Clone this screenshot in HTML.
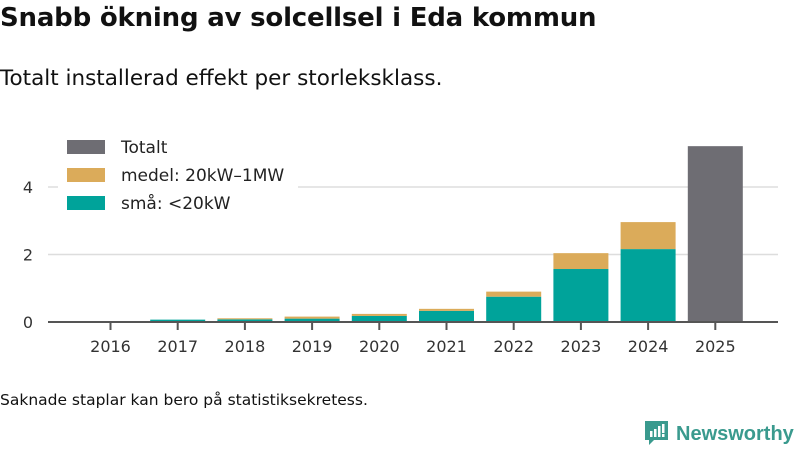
<!DOCTYPE html>
<html><head><meta charset="utf-8"><style>
body{margin:0;width:800px;height:450px;background:#fff;font-family:"DejaVu Sans","Liberation Sans",sans-serif;overflow:hidden;position:relative}
.t{position:absolute;left:0;top:3px;font-size:26px;font-weight:bold;color:#111;letter-spacing:-0.2px;white-space:nowrap}
.s{position:absolute;left:0;top:66px;font-size:21.5px;color:#111;white-space:nowrap}
.n{position:absolute;left:0;top:391px;font-size:15.5px;color:#111;white-space:nowrap}
.logo{position:absolute;left:645px;top:419px;font-size:20px;color:#3a9a8e;white-space:nowrap;font-family:"Liberation Sans",sans-serif}
</style></head><body>
<div class="t">Snabb ökning av solcellsel i Eda kommun</div>
<div class="s">Totalt installerad effekt per storleksklass.</div>
<svg id="c" width="800" height="450" style="position:absolute;left:0;top:0"></svg>
<div class="n">Saknade staplar kan bero på statistiksekretess.</div>
<div class="logo"><svg width="24" height="26" style="vertical-align:-5px;margin-right:7px"><path d="M0 2h23v19h-14l-5 5v-5h-4z" fill="#3a9a8e"/><rect x="5" y="12" width="2.5" height="6" fill="#fff"/><rect x="9" y="10" width="2.5" height="8" fill="#fff"/><rect x="13" y="7" width="2.5" height="11" fill="#fff"/><rect x="17" y="5" width="2.5" height="9" fill="#fff"/><rect x="17" y="15" width="2.5" height="3" fill="#fff"/></svg><span style="font-weight:bold">Newsworthy</span></div>
<script>
const years=["2016","2017","2018","2019","2020","2021","2022","2023","2024","2025"];
const small=[0,0.07,0.08,0.1,0.18,0.33,0.75,1.57,2.16,0];
const medel=[0,0,0.03,0.06,0.06,0.06,0.15,0.47,0.8,0];
const total=[0,0,0,0,0,0,0,0,0,5.21];
const yTicks=[0,2,4];
const NS="http://www.w3.org/2000/svg",svg=document.getElementById('c');
const y=v=>322-v*33.75, x=i=>110.5+i*67.2, bw=55;
function mk(t,a,p){const e=document.createElementNS(NS,t);for(const k in a)e.setAttribute(k,a[k]);(p||svg).appendChild(e);return e;}
yTicks.forEach(v=>{
 if(v>0){const g=mk('line',{x1:48,x2:778,y1:y(v),y2:y(v),stroke:'#ddd','stroke-width':1.5});
 
 }
 const t=mk('text',{x:33,y:y(v)+6,'font-size':16,fill:'#333','text-anchor':'end','font-family':'DejaVu Sans,sans-serif'});t.textContent=v;
 
 
});
years.forEach((yr,i)=>{
 const cx=x(i);
 if(small[i]>0){const r=mk('rect',{x:cx-bw/2,y:y(small[i]),width:bw,height:small[i]*33.75,fill:'#00a39a'});
 
 }
 if(medel[i]>0){const r=mk('rect',{x:cx-bw/2,y:y(small[i]+medel[i]),width:bw,height:medel[i]*33.75,fill:'#dbab5a'});
 
 }
 if(total[i]>0){const r=mk('rect',{x:cx-bw/2,y:y(total[i]),width:bw,height:total[i]*33.75,fill:'#6e6d73'});
 
 }
 const tk=mk('line',{x1:cx,x2:cx,y1:322,y2:330,stroke:'#555','stroke-width':2});
 
 
 const t=mk('text',{x:cx,y:352,'font-size':16,fill:'#333','text-anchor':'middle','font-family':'DejaVu Sans,sans-serif'});t.textContent=yr;
 
 
});
const ax=mk('line',{x1:48,x2:778,y1:322,y2:322,stroke:'#555','stroke-width':2});


const bg=mk('rect',{x:58,y:132,width:240,height:86,fill:'#fff'});


[["Totalt","#6e6d73"],["medel: 20kW–1MW","#dbab5a"],["små: <20kW","#00a39a"]].forEach((l,i)=>{
 const r=mk('rect',{x:67,y:140+i*28,width:38,height:14,fill:l[1]});
 
 
 const t=mk('text',{x:121,y:153+i*28,'font-size':17,fill:'#222','font-family':'DejaVu Sans,sans-serif'});t.textContent=l[0];
 
 
});
</script>
</body></html>
